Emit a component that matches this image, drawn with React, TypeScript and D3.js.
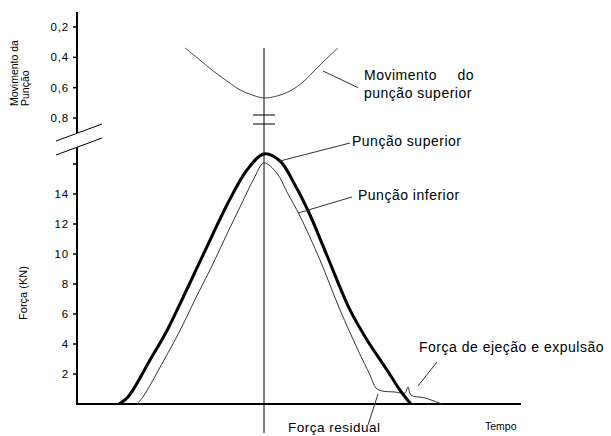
import React from 'react';
import * as d3 from 'd3';

// Time axis (arbitrary units) and value ticks
const timeDomain: [number, number] = [0, 50];
const forceTicks = [2, 4, 6, 8, 10, 12, 14, 16];
const forceTickLabels = ['2', '4', '6', '8', '10', '12', '14', ''];
const moveTicks = [0.2, 0.4, 0.6, 0.8];
const moveTickLabels = ['0,2', '0,4', '0,6', '0,8'];

// Upper punch force (kN)
const upperTime = [4.73, 5.74, 8.22, 10.14, 11.94, 13.51, 15.2, 17.0, 19.14, 21.06, 22.86, 24.55, 26.24, 28.15, 30.74, 32.66, 34.91, 36.37, 37.5, 37.61];
const upperForce = [0, 0.47, 2.93, 4.9, 7.1, 9.07, 11.2, 13.4, 15.6, 16.67, 16.2, 14.6, 12.6, 9.9, 6.27, 4.27, 2.27, 0.93, 0.07, 0];

// Lower punch force (kN), with residual force and ejection peak
const lowerTime = [6.76, 7.43, 9.8, 11.6, 13.4, 15.09, 16.78, 18.58, 19.9, 21.06, 22.5, 23.65, 25.11, 27.36, 29.62, 31.64, 33.0, 33.67, 34.35, 35.81, 36.94, 37.27, 37.61, 39.19, 41.1];
const lowerForce = [0, 0.47, 2.93, 4.9, 7.1, 9.07, 11.2, 13.4, 15.0, 16.07, 15.4, 14.13, 12.53, 9.6, 6.27, 3.6, 1.93, 1.07, 0.87, 0.8, 0.73, 1.13, 0.6, 0.4, 0];

// Upper punch displacement
const moveTime = [12.16, 13.85, 15.32, 16.89, 18.36, 19.71, 21.06, 22.52, 23.99, 25.34, 26.58, 27.93, 29.39];
const movePos = [0.338, 0.418, 0.49, 0.556, 0.615, 0.648, 0.668, 0.655, 0.622, 0.569, 0.497, 0.418, 0.338];

const peakTime = 21.06;

const W = 611;
const H = 436;
const FONT = "'Liberation Sans', Arial, sans-serif";

export default function App() {
  const x = d3.scaleLinear().domain(timeDomain).range([77, 521]);
  const yF = d3.scaleLinear().domain([0, 16]).range([404, 164]);
  const yM = d3.scaleLinear().domain([0.2, 0.8]).range([27, 118]);

  const forceLine = d3
    .line<[number, number]>()
    .x((d) => x(d[0]))
    .y((d) => yF(d[1]))
    .curve(d3.curveCatmullRom.alpha(0.5));
  const moveLine = d3
    .line<[number, number]>()
    .x((d) => x(d[0]))
    .y((d) => yM(d[1]))
    .curve(d3.curveCatmullRom.alpha(0.5));

  const upper = upperTime.map((t, i) => [t, upperForce[i]] as [number, number]);
  const lower = lowerTime.map((t, i) => [t, lowerForce[i]] as [number, number]);
  const move = moveTime.map((t, i) => [t, movePos[i]] as [number, number]);

  const ax = x(0);
  const cx = x(peakTime);

  // leader lines: [t1, y1, t2, y2]
  const forceLeaders: [number, number, number, number][] = [
    [22.86, 16.2, 30.74, 17.4],
    [24.89, 12.73, 30.97, 13.8],
    [40.54, 2.8, 38.4, 1.2],
    [33.9, 0.67, 32.77, -1.4],
  ];
  const moveLeaders: [number, number, number, number][] = [[27.7, 0.49, 31.64, 0.6]];

  const labelStyle = { fontFamily: FONT, fontSize: 14, letterSpacing: 0.5, fill: '#000' } as const;

  return (
    <svg width={W} height={H} style={{ position: 'absolute', left: 0, top: 0, background: '#fff' }}>
      <rect width={W} height={H} fill="#fff" />

      {/* y axis, broken between the two scales */}
      <line x1={ax} x2={ax} y1={12} y2={133} stroke="#000" strokeWidth={2} />
      <line x1={ax} x2={ax} y1={147} y2={405} stroke="#000" strokeWidth={2} />
      <line x1={56} y1={141} x2={102} y2={124} stroke="#000" strokeWidth={1} />
      <line x1={56} y1={155} x2={102} y2={138} stroke="#000" strokeWidth={1} />

      {/* x axis */}
      <line x1={ax - 1} x2={x(timeDomain[1])} y1={yF(0)} y2={yF(0)} stroke="#000" strokeWidth={2} />

      {/* force ticks */}
      {forceTicks.map((v, i) => (
        <g key={'f' + v}>
          <line x1={ax - 4} x2={ax} y1={yF(v)} y2={yF(v)} stroke="#000" strokeWidth={1.5} />
          <text x={ax - 8} y={yF(v) + 4} textAnchor="end" fontFamily={FONT} fontSize={11.5} letterSpacing={0.8}>
            {forceTickLabels[i]}
          </text>
        </g>
      ))}

      {/* movement ticks */}
      {moveTicks.map((v, i) => (
        <g key={'m' + v}>
          <line x1={ax - 4} x2={ax} y1={yM(v)} y2={yM(v)} stroke="#000" strokeWidth={1.5} />
          <text x={ax - 8} y={yM(v) + 4} textAnchor="end" fontFamily={FONT} fontSize={11.5} letterSpacing={0.8}>
            {moveTickLabels[i]}
          </text>
        </g>
      ))}

      {/* axis titles */}
      <text transform="translate(18,106) rotate(-90)" fontFamily={FONT} fontSize={10.5}>
        Movimento da
      </text>
      <text transform="translate(29,106) rotate(-90)" fontFamily={FONT} fontSize={10.5}>
        Punção
      </text>
      <text transform={`translate(27,${yF(7.4)}) rotate(-90)`} textAnchor="middle" fontFamily={FONT} fontSize={11}>
        Força (KN)
      </text>
      <text x={485} y={430} fontFamily={FONT} fontSize={10.5}>
        Tempo
      </text>

      {/* vertical reference line at the compression peak */}
      <line x1={cx} x2={cx} y1={48} y2={433} stroke="#000" strokeWidth={1} />
      <line x1={cx - 11} x2={cx + 11} y1={115} y2={115} stroke="#000" strokeWidth={1} />
      <line x1={cx - 11} x2={cx + 11} y1={124} y2={124} stroke="#000" strokeWidth={1} />

      {/* curves */}
      <path d={moveLine(move) || ''} fill="none" stroke="#444" strokeWidth={1} />
      <path d={forceLine(lower) || ''} fill="none" stroke="#333" strokeWidth={1} />
      <path d={forceLine(upper) || ''} fill="none" stroke="#000" strokeWidth={3} strokeLinejoin="round" />

      {/* leaders */}
      {forceLeaders.map((l, i) => (
        <line key={'fl' + i} x1={x(l[0])} y1={yF(l[1])} x2={x(l[2])} y2={yF(l[3])} stroke="#333" strokeWidth={1} />
      ))}
      {moveLeaders.map((l, i) => (
        <line key={'ml' + i} x1={x(l[0])} y1={yM(l[1])} x2={x(l[2])} y2={yM(l[3])} stroke="#333" strokeWidth={1} />
      ))}

      {/* annotations */}
      <text x={364} y={80} {...labelStyle}>Movimento</text>
      <text x={474} y={80} textAnchor="end" {...labelStyle}>do</text>
      <text x={364} y={98} {...labelStyle}>punção superior</text>
      <text x={352} y={146} {...labelStyle}>Punção superior</text>
      <text x={358} y={200} {...labelStyle}>Punção inferior</text>
      <text x={419} y={352} {...labelStyle}>Força de ejeção e expulsão</text>
      <text x={288} y={432} {...labelStyle} fontSize={13.5}>Força residual</text>
    </svg>
  );
}
